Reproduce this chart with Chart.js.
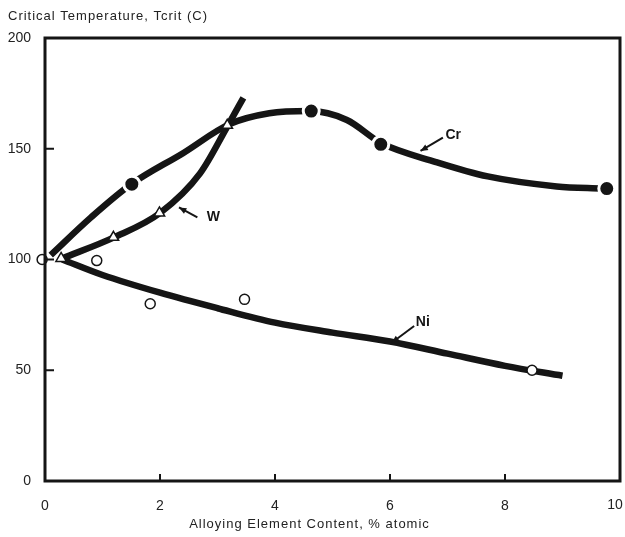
<!DOCTYPE html>
<html>
<head>
<meta charset="utf-8">
<script src="https://cdn.jsdelivr.net/npm/chart.js@4.4.1/dist/chart.umd.min.js"></script>
<style>
  html, body { margin: 0; padding: 0; background: #fff; }
  #wrap { width: 625px; height: 537px; position: relative; }
</style>
</head>
<body>
<div id="wrap"><canvas id="chart"></canvas></div>
<script>
// Axis ticks
const xTicks = [0, 2, 4, 6, 8, 10];
const yTicks = [0, 50, 100, 150, 200];

// Curves
const crCurveX = [0.1, 0.8, 1.5, 2.4, 3.2, 3.9, 4.6, 5.25, 5.85, 6.8, 7.7, 8.9, 9.7];
const crCurveY = [102, 119, 134, 148, 161, 166, 167, 163, 152.5, 144, 137.5, 133, 132];

const wCurveX = [0.3, 1.2, 2.0, 2.7, 3.17, 3.45];
const wCurveY = [100.5, 110, 121, 139, 160, 173];

const niCurveX = [0.3, 1, 2, 3, 4, 5, 6, 7, 8, 9];
const niCurveY = [100, 93, 85, 78, 71.5, 67, 63, 57.5, 52, 47.5];

// Measured points
const crPtsX = [1.51, 4.63, 5.84, 9.77];
const crPtsY = [134, 167, 152, 132];

const wPtsX = [0.28, 1.19, 1.99, 3.17];
const wPtsY = [100.5, 110, 121, 160.6];

const niPtsX = [-0.05, 0.9, 1.83, 3.47, 8.47];
const niPtsY = [100, 99.5, 80, 82, 50];

// Curve labels with arrows (data units)
const labelText = ['Cr', 'W', 'Ni'];
const labelX = [7.1, 2.93, 6.57];
const labelY = [156, 119, 71.5];
const arrowFromX = [6.92, 2.65, 6.42];
const arrowFromY = [155, 119, 70];
const arrowToX = [6.53, 2.33, 6.03];
const arrowToY = [149, 123.5, 62.4];

const zip = (xs, ys) => xs.map((x, i) => ({ x: x, y: ys[i] }));

const ink = '#151515';
const fontFam = '"Liberation Sans", Arial, sans-serif';
const xMax = xTicks[xTicks.length - 1];
const noPad = () => ({ left: 0, top: 0, right: 0, bottom: 0 });

const framePlugin = {
    id: 'frame',
    afterDatasetsDraw(chart) {
        const { ctx, chartArea: a, scales } = chart;
        ctx.save();
        ctx.strokeStyle = ink;
        ctx.lineWidth = 3;
        ctx.strokeRect(a.left, a.top, a.right - a.left, a.bottom - a.top);

        // inward ticks
        ctx.lineWidth = 2;
        ctx.beginPath();
        xTicks.slice(1, -1).forEach(v => {
            const px = scales.x.getPixelForValue(v);
            ctx.moveTo(px, a.bottom);
            ctx.lineTo(px, a.bottom - 7);
        });
        yTicks.slice(1, -1).forEach(v => {
            const py = scales.y.getPixelForValue(v);
            ctx.moveTo(a.left, py);
            ctx.lineTo(a.left + 9, py);
        });
        ctx.stroke();

        // last x tick label (kept out of the scale so it doesn't shrink the plot)
        ctx.fillStyle = '#222';
        ctx.font = '14px ' + fontFam;
        ctx.textAlign = 'center';
        ctx.textBaseline = 'top';
        ctx.fillText(String(xMax), scales.x.getPixelForValue(xMax) - 5, a.bottom + 17);

        // axis titles
        ctx.font = '13px ' + fontFam;
        ctx.letterSpacing = '1px';
        ctx.textAlign = 'left';
        ctx.textBaseline = 'alphabetic';
        ctx.fillText('Critical Temperature, Tcrit (C)', 8, 20);
        ctx.textAlign = 'center';
        ctx.fillText('Alloying Element Content, % atomic', scales.x.getPixelForValue(4.6), 528);
        ctx.letterSpacing = '0px';

        // curve labels and arrows
        ctx.fillStyle = ink;
        ctx.font = 'bold 14px ' + fontFam;
        ctx.textAlign = 'center';
        ctx.textBaseline = 'middle';
        labelText.forEach((t, i) => {
            const tx = scales.x.getPixelForValue(labelX[i]);
            const ty = scales.y.getPixelForValue(labelY[i]);
            ctx.fillText(t, tx, ty);

            const x1 = scales.x.getPixelForValue(arrowFromX[i]);
            const y1 = scales.y.getPixelForValue(arrowFromY[i]);
            const x2 = scales.x.getPixelForValue(arrowToX[i]);
            const y2 = scales.y.getPixelForValue(arrowToY[i]);
            ctx.lineWidth = 2;
            ctx.beginPath();
            ctx.moveTo(x1, y1);
            ctx.lineTo(x2, y2);
            ctx.stroke();
            const ang = Math.atan2(y2 - y1, x2 - x1);
            ctx.beginPath();
            ctx.moveTo(x2, y2);
            ctx.lineTo(x2 - 8 * Math.cos(ang - 0.4), y2 - 8 * Math.sin(ang - 0.4));
            ctx.lineTo(x2 - 8 * Math.cos(ang + 0.4), y2 - 8 * Math.sin(ang + 0.4));
            ctx.closePath();
            ctx.fill();
        });
        ctx.restore();
    }
};

const curve = (data) => ({
    type: 'line',
    data: data,
    borderColor: ink,
    borderWidth: 6.5,
    borderCapStyle: 'butt',
    pointRadius: 0,
    cubicInterpolationMode: 'monotone',
    fill: false,
    order: 2
});

new Chart(document.getElementById('chart'), {
    type: 'scatter',
    data: {
        datasets: [
            curve(zip(crCurveX, crCurveY)),
            curve(zip(wCurveX, wCurveY)),
            curve(zip(niCurveX, niCurveY)),
            {
                data: zip(crPtsX, crPtsY),
                pointStyle: 'circle',
                pointRadius: 8,
                pointBackgroundColor: ink,
                pointBorderColor: '#fff',
                pointBorderWidth: 3,
                order: 1
            },
            {
                data: zip(wPtsX, wPtsY),
                pointStyle: 'triangle',
                pointRadius: 6,
                pointBackgroundColor: '#fff',
                pointBorderColor: ink,
                pointBorderWidth: 1.5,
                order: 1
            },
            {
                data: zip(niPtsX, niPtsY),
                pointStyle: 'circle',
                pointRadius: 5,
                pointBackgroundColor: '#fff',
                pointBorderColor: ink,
                pointBorderWidth: 1.5,
                order: 1
            }
        ]
    },
    options: {
        responsive: true,
        maintainAspectRatio: false,
        animation: false,
        clip: false,
        layout: { autoPadding: false, padding: { top: 38, right: 5, left: 0, bottom: 0 } },
        plugins: {
            legend: { display: false },
            tooltip: { enabled: false }
        },
        scales: {
            x: {
                type: 'linear',
                min: 0,
                max: xMax,
                afterBuildTicks: s => { s.ticks = xTicks.map(v => ({ value: v })); },
                afterFit: s => { s.height = 56; s.getPadding = noPad; },
                grid: { display: false },
                border: { display: false },
                ticks: {
                    padding: 9,
                    color: '#222',
                    font: { family: fontFam, size: 14 },
                    callback: v => (v === xMax ? '' : v)
                }
            },
            y: {
                min: 0,
                max: 200,
                afterBuildTicks: s => { s.ticks = yTicks.map(v => ({ value: v })); },
                afterFit: s => { s.width = 45; s.getPadding = noPad; },
                grid: { display: false },
                border: { display: false },
                ticks: {
                    padding: 6,
                    color: '#222',
                    font: { family: fontFam, size: 14 }
                }
            }
        }
    },
    plugins: [framePlugin]
});
</script>
</body>
</html>
